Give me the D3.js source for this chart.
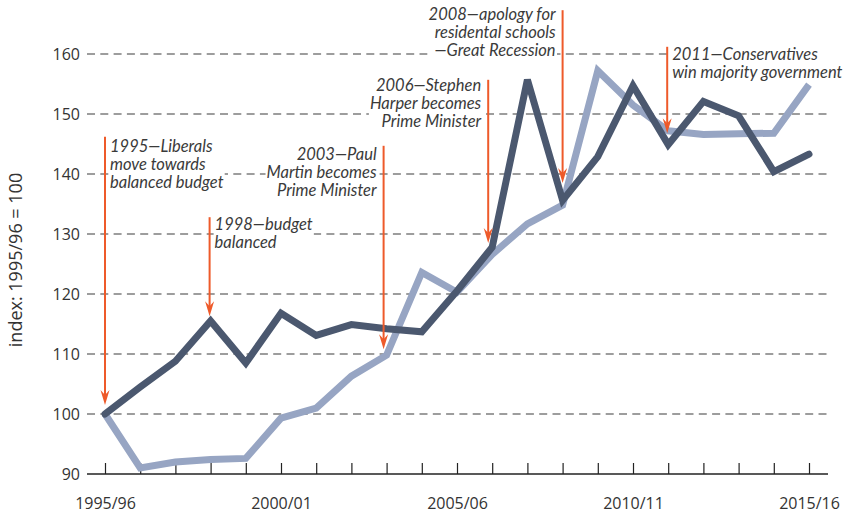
<!DOCTYPE html>
<html>
<head>
<meta charset="utf-8">
<script src="https://cdn.jsdelivr.net/npm/d3@7"></script>
<style>
  body { margin: 0; background: #fff; }
  .axis-label { font-family: "Open Sans", sans-serif; fill: #333; }
  .note { font-family: Lato, sans-serif; font-style: italic; font-size: 16.5px; fill: #3a3a3a; }
</style>
</head>
<body>
<svg width="847" height="515"></svg>
<script>
const years = ["1995/96","1996/97","1997/98","1998/99","1999/00","2000/01","2001/02","2002/03","2003/04","2004/05",
  "2005/06","2006/07","2007/08","2008/09","2009/10","2010/11","2011/12","2012/13","2013/14","2014/15","2015/16"]
const darkSeries = [100, 104.5, 108.8, 115.5, 108.5, 116.8, 113.1, 114.9, 114.2, 113.7,
  120.5, 127.8, 155.7, 135.6, 142.9, 154.7, 144.9, 152.1, 149.7, 140.4, 143.3]
const lightSeries = [100, 91, 92, 92.4, 92.6, 99.3, 101, 106.3, 109.8, 123.6,
  120.3, 126.6, 131.7, 134.8, 157.2, 151.5, 147.2, 146.6, 146.7, 146.8, 154.9]
const yTicks = [90, 100, 110, 120, 130, 140, 150, 160]
const xTickLabels = ["1995/96", "2000/01", "2005/06", "2010/11", "2015/16"]
const noteLines = [
  ["1995\u2014Liberals", "move towards", "balanced budget"],
  ["1998\u2014budget", "balanced"],
  ["2003\u2014Paul", "Martin becomes", "Prime Minister"],
  ["2006\u2014Stephen", "Harper becomes", "Prime Minister"],
  ["2008\u2014apology for", "residental schools", "\u2014Great Recession"],
  ["2011\u2014Conservatives", "win majority government"]
]
const noteYear = ["1995/96", "1998/99", "2003/04", "2006/07", "2008/09", "2011/12"]
const noteFrom = [146.2, 132.8, 144.7, 155.7, 167.3, 161.2]
const noteTo = [101.5, 116.3, 110.8, 128.5, 138.5, 146.8]

// layout per note: side of text, first baseline offset, x shift of arrow
const noteLayout = [
  {side: "right", dy: 15, dx: 0},
  {side: "right", dy: 13, dx: -1},
  {side: "left", dy: 14, dx: -3},
  {side: "left", dy: 11, dx: -4},
  {side: "left", dy: 10, dx: 0},
  {side: "right", dy: 13, dx: -1}
]

const svg = d3.select("svg")

const x = d3.scalePoint()
  .domain(years)
  .range([105, 809])

const y = d3.scaleLinear()
  .domain([90, 160])
  .range([474, 54])

// gridlines
svg.append("g")
  .selectAll("line")
  .data(yTicks.filter(d => d > 90))
  .enter()
  .append("line")
  .attr("x1", 87)
  .attr("x2", 828)
  .attr("y1", d => y(d))
  .attr("y2", d => y(d))
  .attr("stroke", "#3d3d3d")
  .attr("stroke-width", 1.2)
  .attr("stroke-dasharray", "8,5.3")

// y labels
svg.append("g")
  .selectAll("text")
  .data(yTicks)
  .enter()
  .append("text")
  .attr("class", "axis-label")
  .attr("x", 80)
  .attr("y", d => y(d) + 6)
  .attr("text-anchor", "end")
  .style("font-size", "16px")
  .text(d => d)

// x axis
const xAxis = d3.axisBottom(x)
  .tickSize(-11)
  .tickFormat(d => xTickLabels.includes(d) ? d : "")

const xg = svg.append("g")
  .attr("transform", `translate(0, ${y(90)})`)
  .call(xAxis)

xg.select(".domain").remove()
xg.selectAll(".tick line").attr("stroke", "#222").attr("stroke-width", 1.2)
xg.selectAll(".tick text")
  .attr("class", "axis-label")
  .attr("y", 24)
  .style("font-size", "16px")
  .style("fill", "#333")

xg.append("line")
  .attr("x1", 87)
  .attr("x2", 828)
  .attr("stroke", "#222")
  .attr("stroke-width", 1.5)

svg.append("text")
  .attr("class", "axis-label")
  .attr("transform", `translate(22, 260) rotate(-90)`)
  .attr("text-anchor", "middle")
  .style("font-size", "18px")
  .text("index: 1995/96 = 100")

// notes
const notes = svg.append("g")
  .selectAll("g.note")
  .data(noteLines)
  .enter()
  .append("g")
  .attr("class", "note-group")

notes.each(function (lines, i) {
  const g = d3.select(this)
  const lay = noteLayout[i]
  const ax = x(noteYear[i]) + lay.dx
  const top = y(noteFrom[i])
  const tx = lay.side === "right" ? ax + 5 : ax - 7
  const bg = g.append("rect").attr("fill", "#fff")
  const t = g.append("text")
    .attr("class", "note")
    .attr("text-anchor", lay.side === "right" ? "start" : "end")
  t.selectAll("tspan")
    .data(lines)
    .enter()
    .append("tspan")
    .attr("x", tx)
    .attr("y", (d, k) => top + lay.dy + k * 18)
    .text(d => d)
  const b = t.node().getBBox()
  bg.attr("x", b.x - 1).attr("y", b.y).attr("width", b.width + 2).attr("height", b.height)
})

// lines
const line = d3.line()
  .x((d, i) => x(years[i]))
  .y(d => y(d))

svg.append("path")
  .datum(lightSeries)
  .attr("d", line)
  .attr("fill", "none")
  .attr("stroke", "#97a5c3")
  .attr("stroke-width", 7)
  .attr("stroke-linejoin", "miter")

svg.append("path")
  .datum(darkSeries)
  .attr("d", line)
  .attr("fill", "none")
  .attr("stroke", "#4b586f")
  .attr("stroke-width", 7)
  .attr("stroke-linecap", "round")
  .attr("stroke-linejoin", "miter")

// arrows
const arrows = svg.append("g")
  .selectAll("g.arrow")
  .data(noteYear)
  .enter()
  .append("g")
  .attr("class", "arrow")

arrows.append("line")
  .attr("x1", (d, i) => x(d) + noteLayout[i].dx)
  .attr("x2", (d, i) => x(d) + noteLayout[i].dx)
  .attr("y1", (d, i) => y(noteFrom[i]))
  .attr("y2", (d, i) => y(noteTo[i]) - 8)
  .attr("stroke", "#ee5a2a")
  .attr("stroke-width", 2)

arrows.append("path")
  .attr("d", (d, i) => {
    const ax = x(d) + noteLayout[i].dx
    const ty = y(noteTo[i])
    return `M${ax - 4.5},${ty - 15} L${ax},${ty - 10} L${ax + 4.5},${ty - 15} L${ax},${ty} Z`
  })
  .attr("fill", "#ee5a2a")
</script>
</body>
</html>
